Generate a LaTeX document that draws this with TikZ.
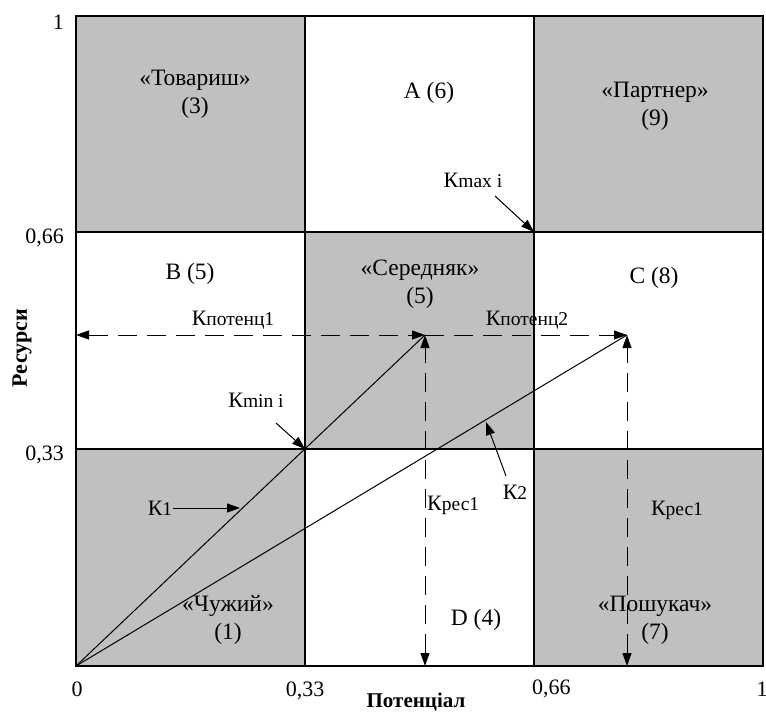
\documentclass[tikz,border=0pt]{standalone}
\usepackage{fontspec}
\setmainfont{Liberation Serif}
\usetikzlibrary{arrows.meta,calc}
\begin{document}
\begin{tikzpicture}[x=1pt,y=-1pt,
  grid/.style={line width=1.3pt},
  celltext/.style={font=\fontsize{23.5}{28}\selectfont,align=center,inner sep=0pt},
  axtext/.style={font=\fontsize{22}{26}\selectfont,inner sep=0pt},
  axtitle/.style={font=\fontsize{21}{24}\selectfont\bfseries,inner sep=0pt},
  klabel/.style={font=\fontsize{22}{24}\selectfont,inner sep=1pt},
  tip/.style={-{Triangle[length=13pt,width=9pt]}},
  dtip/.style={{Triangle[length=13pt,width=9pt]}-{Triangle[length=13pt,width=9pt]}},
  dashline/.style={dash pattern=on 19pt off 10pt,line width=1pt},
  ray/.style={line width=1pt}]
\newcommand{\subtxt}[1]{{\fontsize{19.5}{22}\selectfont #1}}
\definecolor{cellgrey}{RGB}{192,192,192}
\useasboundingbox (0,0) rectangle (766,712);
% grid coordinates
\coordinate (O) at (76,666);
\coordinate (Kmin) at (305,449);
\coordinate (Kmax) at (534,232);
\coordinate (P1) at (425,335);
\coordinate (P2) at (627,335);
\coordinate (L) at (76,335);
\coordinate (B1) at (425,666);
\coordinate (B2) at (627,666);
% cells
\fill[cellgrey] (76,16) rectangle (305,232);
\fill[cellgrey] (534,16) rectangle (763,232);
\fill[cellgrey] (305,232) rectangle (534,449);
\fill[cellgrey] (76,449) rectangle (305,666);
\fill[cellgrey] (534,449) rectangle (763,666);
\draw[grid] (76,16) rectangle (763,666);
\draw[grid] (305,16) -- (305,666);
\draw[grid] (534,16) -- (534,666);
\draw[grid] (76,232) -- (763,232);
\draw[grid] (76,449) -- (763,449);
% cell texts
\node[celltext] (c3) at (195,94) {«Товариш»\\(3)};
\node[celltext] (c6) at (429,93) {A (6)};
\node[celltext] (c9) at (655,106) {«Партнер»\\(9)};
\node[celltext] (c5b) at (190,274) {B (5)};
\node[celltext] (c5) at (420,284) {«Середняк»\\(5)};
\node[celltext] (c8) at (654,278) {C (8)};
\node[celltext] (c1) at (228,620) {«Чужий»\\(1)};
\node[celltext] (c4) at (476,620) {D (4)};
\node[celltext] (c7) at (655,620) {«Пошукач»\\(7)};
% axis labels
\node[axtext,anchor=east] (y1) at (64,22) {1};
\node[axtext,anchor=east] (y66) at (64,238) {0,66};
\node[axtext,anchor=east] (y33) at (64,455) {0,33};
\node[axtext] (x0) at (77,689) {0};
\node[axtext] (x33) at (305,691) {0,33};
\node[axtext,anchor=west] (x66) at (532,689) {0,66};
\node[axtext] (x1) at (762,689) {1};
\node[axtitle,anchor=base] (xt) at (416,707) {Потенціал};
\node[axtitle,rotate=90,font=\fontsize{22}{26}\selectfont\bfseries] (yt) at (22,348) {Ресурси};
% rays
\draw[ray] (O) -- (P1);
\draw[ray] (O) -- (P2);
% dashed arrows
\draw[dashline,dtip] (L) -- (P1);
\draw[dashline,tip] (P1) -- (P2);
\draw[dashline,dtip] (B1) -- (P1);
\draw[dashline,dtip] (B2) -- (P2);
% labels with pointer arrows
\node[klabel] (lmax) at (473,180) {К\subtxt{max i}};
\coordinate (lmaxs) at (495,196);
\draw[ray,tip] (lmaxs) -- (Kmax);
\node[klabel] (lmin) at (256,400) {К\subtxt{min i}};
\coordinate (lmins) at (276,423);
\draw[ray,tip] (lmins) -- (Kmin);
\node[klabel] (lk1) at (160,508) {К\subtxt{1}};
\coordinate (k1t) at (240,508);
\draw[ray,tip] (lk1.east) -- (k1t);
\node[klabel] (lk2) at (515,492) {К\subtxt{2}};
\coordinate (k2s) at (506,476);
\coordinate (k2t) at (486,422);
\draw[ray,tip] (k2s) -- (k2t);
\node[klabel] (lp1) at (233,320) {К\subtxt{потенц1}};
\node[klabel] (lp2) at (527,320) {К\subtxt{потенц2}};
\node[klabel,anchor=west] (lr1) at (426,505) {К\subtxt{рес1}};
\node[klabel] (lr2) at (677,510) {К\subtxt{рес1}};
\end{tikzpicture}
\end{document}
